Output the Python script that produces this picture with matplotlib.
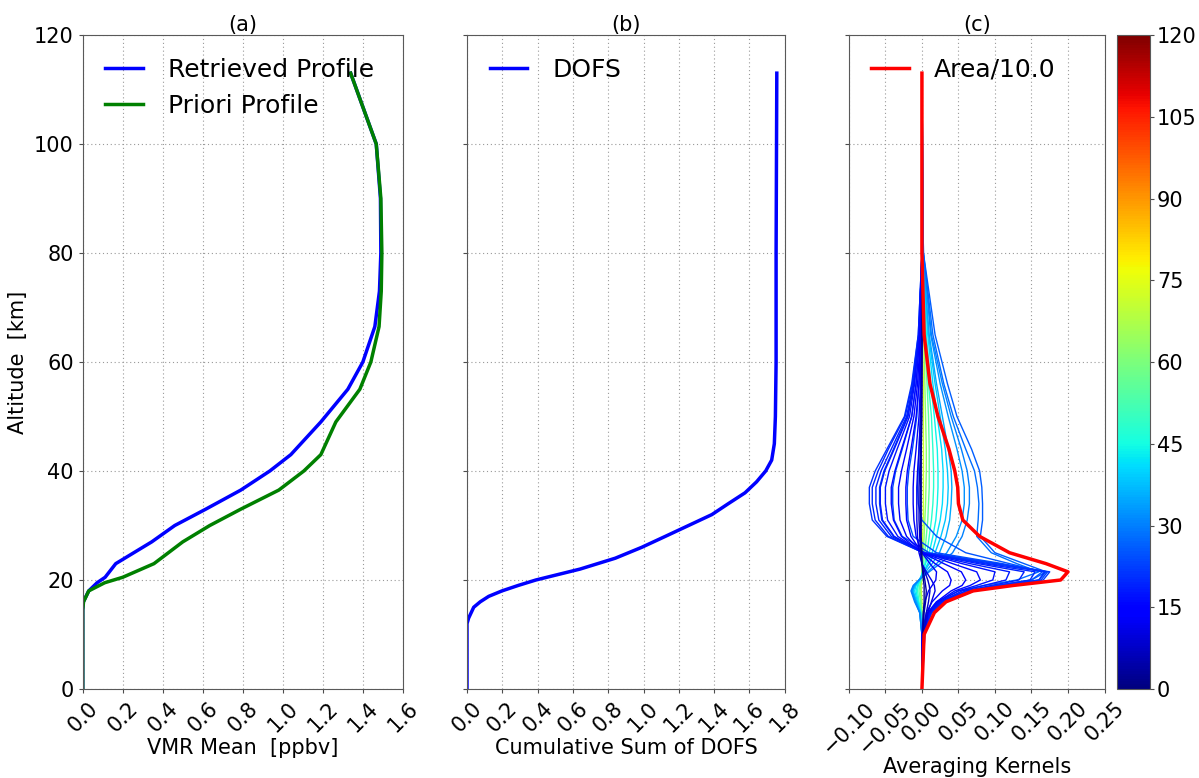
import numpy as np
import matplotlib
matplotlib.use('Agg')
import matplotlib.pyplot as plt
from matplotlib import cm, colors

# ---- panel (a): mean VMR profiles
alt_prof = [0, 10, 14.5, 16, 18, 19.5, 20.5, 23, 27, 30, 33, 36.5, 40, 43, 49, 55, 60, 66.5, 73, 80, 90, 100, 113]
vmr_retrieved = [0, 0, 0.0, 0.003, 0.03, 0.072, 0.112, 0.165, 0.345, 0.46, 0.615, 0.79, 0.935, 1.04, 1.19,
                 1.325, 1.40, 1.46, 1.483, 1.49, 1.488, 1.467, 1.339]
vmr_apriori = [0, 0, 0.0, 0.004, 0.03, 0.11, 0.20, 0.356, 0.50, 0.635, 0.79, 0.98, 1.105, 1.19, 1.265,
               1.385, 1.44, 1.481, 1.492, 1.495, 1.49, 1.467, 1.339]

# ---- panel (b): cumulative DOFS
alt_dofs = [0, 12, 13, 15, 16, 17, 18, 19, 20, 22, 24, 26, 28, 30, 32, 34, 36, 38, 40, 42, 45, 50, 60, 80, 113]
dofs_cum = [0, 0.0, 0.009, 0.038, 0.075, 0.123, 0.198, 0.29, 0.39, 0.64, 0.84, 0.99, 1.123, 1.255, 1.387,
            1.48, 1.575, 1.64, 1.692, 1.726, 1.741, 1.747, 1.751, 1.751, 1.755]

# ---- panel (c): averaging kernels (one row per retrieval level, values at ak_alt)
ak_alt = [0, 10, 14, 16, 18, 19, 20, 21.5, 23, 25, 28, 31, 34, 37, 40, 44, 50, 56, 65, 80, 113]

ak_02 = [0, 0.001, 0.002, 0.003, 0.003, 0.003, 0.002, 0.001, 0, 0, -0.001, -0.001, -0.001, -0.001, -0.001, -0.001, 0, 0, 0, 0, 0]
ak_05 = [0, 0.002, 0.003, 0.005, 0.006, 0.005, 0.004, 0.002, 0, -0.001, -0.002, -0.002, -0.002, -0.002, -0.002, -0.001, -0.001, 0, 0, 0, 0]
ak_08 = [0, 0.003, 0.006, 0.009, 0.011, 0.010, 0.008, 0.004, 0, -0.002, -0.003, -0.004, -0.004, -0.004, -0.003, -0.002, -0.001, -0.001, 0, 0, 0]
ak_11 = [0, 0.004, 0.008, 0.013, 0.018, 0.017, 0.013, 0.006, 0, -0.004, -0.006, -0.007, -0.007, -0.007, -0.006, -0.004, -0.002, -0.001, 0, 0, 0]
ak_13 = [0, 0, 0.002, 0.004, 0.009, 0.014, 0.019, 0.020, 0.011, 0, -0.008, -0.011, -0.012, -0.012, -0.011, -0.008, -0.004, -0.002, -0.001, 0, 0]
ak_14 = [0, 0, 0.006, 0.014, 0.028, 0.038, 0.040, 0.035, 0.018, 0, -0.015, -0.021, -0.022, -0.022, -0.020, -0.015, -0.008, -0.004, -0.002, 0, 0]
ak_15 = [0, 0.001, 0.008, 0.020, 0.040, 0.055, 0.060, 0.054, 0.030, 0, -0.021, -0.030, -0.032, -0.032, -0.028, -0.021, -0.011, -0.006, -0.002, 0, 0]
ak_16 = [0, 0.001, 0.009, 0.022, 0.045, 0.066, 0.080, 0.075, 0.042, 0, -0.028, -0.039, -0.042, -0.042, -0.037, -0.028, -0.014, -0.008, -0.003, 0, 0]
ak_17 = [0, 0.001, 0.010, 0.024, 0.050, 0.075, 0.097, 0.100, 0.055, 0.001, -0.033, -0.047, -0.050, -0.050, -0.045, -0.034, -0.017, -0.010, -0.004, 0, 0]
ak_18 = [0, 0.001, 0.011, 0.026, 0.055, 0.085, 0.115, 0.120, 0.066, 0.001, -0.038, -0.054, -0.057, -0.057, -0.051, -0.038, -0.019, -0.011, -0.004, 0, 0]
ak_19 = [0, 0.001, 0.012, 0.028, 0.060, 0.095, 0.133, 0.140, 0.077, 0.002, -0.042, -0.059, -0.063, -0.063, -0.056, -0.042, -0.021, -0.012, -0.004, 0, 0]
ak_20 = [0, 0.001, 0.012, 0.030, 0.065, 0.105, 0.148, 0.155, 0.085, 0.002, -0.046, -0.064, -0.068, -0.068, -0.060, -0.046, -0.023, -0.013, -0.005, 0, 0]
ak_21 = [0, 0.001, 0.013, 0.032, 0.070, 0.112, 0.160, 0.168, 0.092, 0.002, -0.048, -0.068, -0.072, -0.072, -0.064, -0.048, -0.024, -0.014, -0.005, 0, 0]
ak_22 = [0, 0.001, 0.013, 0.033, 0.072, 0.115, 0.166, 0.175, 0.100, 0.005, -0.039, -0.055, -0.058, -0.058, -0.052, -0.039, -0.020, -0.011, -0.004, 0, 0]
ak_23 = [0, 0.001, 0.013, 0.033, 0.070, 0.112, 0.163, 0.172, 0.105, 0.010, -0.027, -0.038, -0.040, -0.040, -0.036, -0.027, -0.014, -0.008, -0.003, 0, 0]
ak_24 = [0, 0.001, 0.013, 0.032, 0.068, 0.110, 0.160, 0.170, 0.110, 0.020, -0.012, -0.019, -0.020, -0.020, -0.018, -0.013, -0.007, -0.004, -0.001, 0, 0]
ak_25 = [0, 0.001, 0.012, 0.030, 0.065, 0.105, 0.150, 0.165, 0.120, 0.060, 0.020, 0.0, -0.005, -0.006, -0.005, -0.004, -0.002, -0.001, 0, 0, 0]
ak_26 = [0, 0.001, 0.010, 0.025, 0.060, 0.100, 0.150, 0.170, 0.140, 0.100, 0.080, 0.083, 0.083, 0.082, 0.079, 0.068, 0.048, 0.035, 0.018, 0.002, 0]
ak_28 = [0, 0.001, 0.008, 0.020, 0.050, 0.085, 0.130, 0.160, 0.130, 0.095, 0.075, 0.077, 0.078, 0.076, 0.072, 0.060, 0.043, 0.030, 0.015, 0.002, 0]
ak_30 = [0, 0, -0.003, -0.010, -0.015, -0.012, -0.004, 0.010, 0.025, 0.042, 0.055, 0.062, 0.065, 0.065, 0.062, 0.054, 0.040, 0.028, 0.013, 0.002, 0]
ak_32 = [0, 0, -0.003, -0.009, -0.014, -0.011, -0.004, 0.008, 0.020, 0.034, 0.047, 0.055, 0.058, 0.058, 0.055, 0.048, 0.036, 0.025, 0.012, 0.002, 0]
ak_35 = [0, 0, -0.003, -0.008, -0.013, -0.010, -0.004, 0.005, 0.014, 0.024, 0.033, 0.038, 0.040, 0.041, 0.040, 0.036, 0.028, 0.020, 0.010, 0.001, 0]
ak_38 = [0, 0, -0.002, -0.007, -0.012, -0.009, -0.004, 0.003, 0.010, 0.018, 0.026, 0.032, 0.035, 0.036, 0.035, 0.032, 0.025, 0.018, 0.009, 0.001, 0]
ak_41 = [0, 0, -0.002, -0.006, -0.010, -0.008, -0.003, 0.002, 0.008, 0.014, 0.020, 0.025, 0.028, 0.029, 0.029, 0.027, 0.021, 0.015, 0.008, 0.001, 0]
ak_44 = [0, 0, -0.002, -0.005, -0.008, -0.006, -0.003, 0.001, 0.005, 0.010, 0.015, 0.019, 0.021, 0.022, 0.022, 0.021, 0.017, 0.012, 0.006, 0.001, 0]
ak_48 = [0, 0, -0.001, -0.004, -0.006, -0.005, -0.002, 0.001, 0.004, 0.007, 0.010, 0.013, 0.015, 0.016, 0.016, 0.015, 0.013, 0.009, 0.005, 0.001, 0]
ak_55 = [0, 0, -0.001, -0.002, -0.004, -0.003, -0.001, 0.001, 0.002, 0.004, 0.006, 0.008, 0.009, 0.010, 0.010, 0.010, 0.009, 0.007, 0.004, 0.001, 0]
ak_62 = [0, 0, 0, -0.001, -0.002, -0.002, -0.001, 0, 0.001, 0.002, 0.003, 0.004, 0.005, 0.0055, 0.006, 0.006, 0.005, 0.004, 0.003, 0.001, 0]
ak_72 = [0, 0, 0, 0, -0.001, -0.001, 0, 0, 0.001, 0.001, 0.001, 0.002, 0.002, 0.002, 0.002, 0.002, 0.002, 0.002, 0.001, 0.001, 0]

ak_levels = [2, 5, 8, 11, 13, 14, 15, 16, 17, 18, 19, 20, 21, 22, 23, 24, 25, 26, 28, 30, 32, 35, 38, 41, 44, 48, 55, 62, 72]
ak_rows = [ak_02, ak_05, ak_08, ak_11, ak_13, ak_14, ak_15, ak_16, ak_17, ak_18, ak_19, ak_20, ak_21, ak_22,
           ak_23, ak_24, ak_25, ak_26, ak_28, ak_30, ak_32, ak_35, ak_38, ak_41, ak_44, ak_48, ak_55, ak_62, ak_72]

# area of the kernels / 10
area_10 = [0, 0.003, 0.017, 0.033, 0.07, 0.125, 0.19, 0.20, 0.17, 0.12, 0.079, 0.056, 0.05, 0.049, 0.045,
           0.037, 0.022, 0.011, 0.003, 0, 0]

plt.rcParams['font.family'] = 'DejaVu Sans'
plt.rcParams['font.size'] = 15

fig = plt.figure(figsize=(11.99, 7.78), dpi=100)
bot, hgt = 0.1144, 0.8406
ax1 = fig.add_axes([0.069, bot, 0.267, hgt])
ax2 = fig.add_axes([0.3895, bot, 0.265, hgt])
ax3 = fig.add_axes([0.708, bot, 0.2132, hgt])
cax = fig.add_axes([0.9315, bot, 0.0275, hgt])

def style(ax, title):
    ax.set_title(title, fontsize=15, pad=2)
    ax.set_ylim(0, 120)
    ax.set_yticks(np.arange(0, 121, 20))
    ax.grid(True, linestyle=(0, (1, 2.5)), color='0.6', linewidth=0.8)
    ax.tick_params(direction='out', length=3, labelsize=15, color='0.3')
    for lab in ax.get_xticklabels():
        lab.set_rotation(45)
    for s in ax.spines.values():
        s.set_color('0.35')

ax1.plot(vmr_retrieved, alt_prof, color='b', lw=2.5, label='Retrieved Profile')
ax1.plot(vmr_apriori, alt_prof, color='g', lw=2.5, label='Priori Profile')
ax1.set_xlim(0, 1.6)
ax1.set_xticks(np.arange(0, 1.61, 0.2))
style(ax1, '(a)')
ax1.set_xlabel('VMR Mean  [ppbv]', fontsize=15, labelpad=2)
ax1.set_ylabel('Altitude  [km]', fontsize=15)
ax1.legend(loc='upper left', frameon=False, fontsize=18, handlelength=1.5, handletextpad=1.0)

ax2.plot(dofs_cum, alt_dofs, color='b', lw=2.5, label='DOFS')
ax2.set_xlim(0, 1.8)
ax2.set_xticks(np.arange(0, 1.81, 0.2))
style(ax2, '(b)')
ax2.set_yticklabels([])
ax2.set_xlabel('Cumulative Sum of DOFS', fontsize=15, labelpad=2)
ax2.legend(loc='upper left', frameon=False, fontsize=18, handlelength=1.5, handletextpad=1.0)

cmap = plt.get_cmap('jet')
norm = colors.Normalize(vmin=0, vmax=120)
# draw from top level down so the low levels end up on top
for lev, row in sorted(zip(ak_levels, ak_rows), key=lambda t: -t[0]):
    ax3.plot(row, ak_alt, color=cmap(norm(lev)), lw=1.0)
ax3.plot(area_10, ak_alt, color='r', lw=2.5, label='Area/10.0')
ax3.set_xlim(-0.10, 0.25)
ax3.set_xticks(np.arange(-0.10, 0.251, 0.05))
ax3.set_xticklabels(['%.2f' % v if v >= -1e-9 else '\u2212%.2f' % -v for v in np.arange(-0.10, 0.251, 0.05)])
style(ax3, '(c)')
ax3.set_yticklabels([])
ax3.set_xlabel('Averaging Kernels', fontsize=15, labelpad=0)
ax3.legend(loc='upper left', frameon=False, fontsize=18, handlelength=1.5, handletextpad=1.0)

sm = cm.ScalarMappable(norm=norm, cmap=cmap)
cb = fig.colorbar(sm, cax=cax, ticks=np.arange(0, 121, 15))
cb.ax.tick_params(labelsize=15, direction='out', length=3, pad=2, color='0.3')
cb.outline.set_edgecolor('0.35')

fig.savefig('out.png', dpi=100)
